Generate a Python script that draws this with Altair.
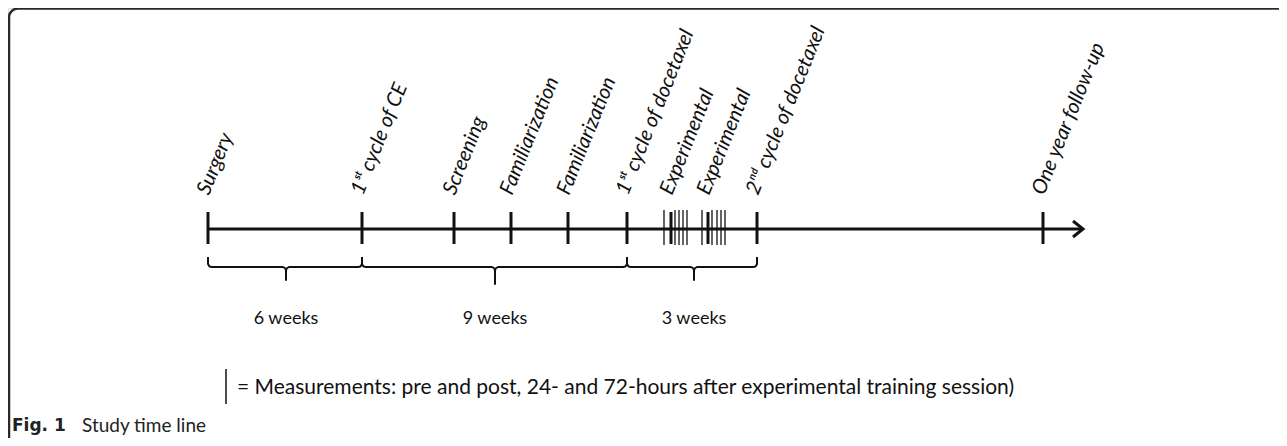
import altair as alt
import pandas as pd

# ---- data ----
event_labels = ["Surgery", "1ˢᵗ cycle of CE", "Screening", "Familiarization", "Familiarization",
                "1ˢᵗ cycle of docetaxel", "Experimental", "Experimental",
                "2ⁿᵈ cycle of docetaxel", "One year follow-up"]
event_x = [208, 362, 454, 511, 568, 627, 671, 708, 757, 1043]
measure_x = [664, 675, 679, 683, 687, 702, 712, 717, 721, 725]
bracket_start = [208, 362, 627]
bracket_end = [362, 627, 757]
bracket_mid = [286, 495, 694]
bracket_depth = [280, 284, 280]
bracket_labels = ["6 weeks", "9 weeks", "3 weeks"]
legend_text = "=  Measurements: pre and post, 24- and 72-hours after experimental training session)"
caption_bold = "Fig. 1"
caption_text = "Study time line"

W, H = 1271, 430
XS = alt.Scale(domain=[8, 8 + W])
YS = alt.Scale(domain=[8, 8 + H], reverse=True)
INK = "#111111"
FONT = "Lato"


def X(f="x"):
    return alt.X(f"{f}:Q", scale=XS, axis=None)


def Y(f="y"):
    return alt.Y(f"{f}:Q", scale=YS, axis=None)


# frame
frame = alt.Chart(pd.DataFrame({"x": [9], "x2": [1320], "y": [8.5], "y2": [470]})).mark_rect(
    filled=False, stroke="#2a2a2a", strokeWidth=2.5, cornerRadius=9
).encode(x=X(), x2="x2:Q", y=Y(), y2="y2:Q")

# main axis line
axis_line = alt.Chart(pd.DataFrame({"x": [event_x[0]], "x2": [1083], "y": [229]})).mark_rule(
    color=INK, strokeWidth=3
).encode(x=X(), x2="x2:Q", y=Y())

# arrow head
arrow = alt.Chart(pd.DataFrame({"x": [1073, 1083, 1073], "y": [221, 229, 237], "o": [0, 1, 2]})).mark_line(
    color=INK, strokeWidth=3, strokeJoin="miter"
).encode(x=X(), y=Y(), order="o:O")

# event ticks
ev = pd.DataFrame({"x": event_x, "y": [212] * len(event_x), "y2": [244] * len(event_x), "label": event_labels})
ev_ticks = alt.Chart(ev).mark_rule(color=INK, strokeWidth=3).encode(x=X(), y=Y(), y2="y2:Q")

# measurement ticks
ms = pd.DataFrame({"x": measure_x, "y": [210] * len(measure_x), "y2": [245] * len(measure_x)})
ms_ticks = alt.Chart(ms).mark_rule(color=INK, strokeWidth=1.3).encode(x=X(), y=Y(), y2="y2:Q")

# brackets
rows = []
for i, (x0, x1, xm, d) in enumerate(zip(bracket_start, bracket_end, bracket_mid, bracket_depth)):
    pts = [(x0, 257), (x0, 264), (x0 + 1.5, 266.5), (x0 + 4, 267), (xm - 3, 267), (xm - 0.5, 268.5),
           (xm, 271), (xm, d), (xm, 271), (xm + 0.5, 268.5), (xm + 3, 267), (x1 - 4, 267),
           (x1 - 1.5, 266.5), (x1, 264), (x1, 257)]
    for k, (px, py) in enumerate(pts):
        rows.append({"b": i, "o": k, "x": px, "y": py})
br = pd.DataFrame(rows)
brackets = alt.Chart(br).mark_line(color=INK, strokeWidth=2, strokeJoin="round").encode(
    x=X(), y=Y(), detail="b:N", order="o:Q"
)

bl = pd.DataFrame({"x": bracket_mid, "y": [319] * 3, "t": bracket_labels})
bracket_text = alt.Chart(bl).mark_text(font=FONT, fontSize=18, color=INK, baseline="middle").encode(
    x=X(), y=Y(), text="t:N"
)

# rotated event labels
lab = pd.DataFrame({"x": [v + 1 for v in event_x], "y": [196] * len(event_x), "t": event_labels})
labels = alt.Chart(lab).mark_text(
    font=FONT, fontSize=20.5, fontStyle="italic", color=INK, angle=292, align="left", baseline="alphabetic"
).encode(x=X(), y=Y(), text="t:N")

# legend
leg_bar = alt.Chart(pd.DataFrame({"x": [226], "y": [369], "y2": [404]})).mark_rule(
    color=INK, strokeWidth=1.5
).encode(x=X(), y=Y(), y2="y2:Q")
leg_text = alt.Chart(pd.DataFrame({"x": [237], "y": [388], "t": [legend_text]})).mark_text(
    font=FONT, fontSize=21, color=INK, align="left", baseline="middle"
).encode(x=X(), y=Y(), text="t:N")

# caption
cap1 = alt.Chart(pd.DataFrame({"x": [12], "y": [426], "t": [caption_bold]})).mark_text(
    font="DejaVu Sans", fontSize=17, fontWeight="bold", color="#222222", align="left", baseline="middle"
).encode(x=X(), y=Y(), text="t:N")
cap2 = alt.Chart(pd.DataFrame({"x": [82], "y": [426], "t": [caption_text]})).mark_text(
    font=FONT, fontSize=19, color="#222222", align="left", baseline="middle"
).encode(x=X(), y=Y(), text="t:N")

chart = alt.layer(
    frame, axis_line, arrow, ev_ticks, ms_ticks, brackets, bracket_text, labels, leg_bar, leg_text, cap1, cap2
).properties(width=W, height=H, padding=0, autosize=alt.AutoSizeParams(type="none")).configure_view(
    strokeWidth=0
).configure(background="white")

chart.save("out.html", embed_options={"renderer": "svg", "actions": False})
